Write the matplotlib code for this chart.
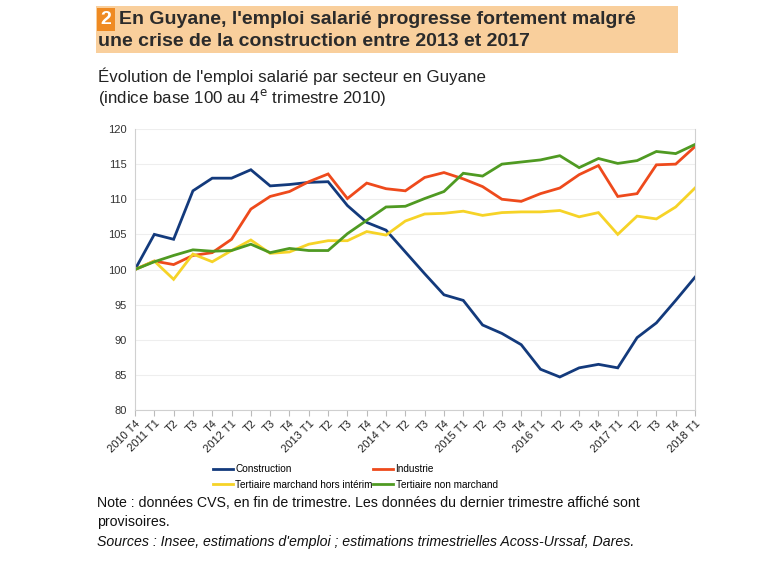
import matplotlib
matplotlib.use("Agg")
import matplotlib.pyplot as plt
from matplotlib import font_manager
from matplotlib.patches import Rectangle

names = {f.name for f in font_manager.fontManager.ttflist}
BASE = "Liberation Sans" if "Liberation Sans" in names else "DejaVu Sans"
NARROW = "Liberation Sans Narrow" if "Liberation Sans Narrow" in names else None
plt.rcParams['font.family'] = [BASE, 'DejaVu Sans']

tick_labels = ["2010 T4", "2011 T1", "T2", "T3", "T4", "2012 T1", "T2", "T3", "T4",
               "2013 T1", "T2", "T3", "T4", "2014 T1", "T2", "T3", "T4",
               "2015 T1", "T2", "T3", "T4", "2016 T1", "T2", "T3", "T4",
               "2017 T1", "T2", "T3", "T4", "2018 T1"]

construction = [100.0, 105.0, 104.3, 111.2, 113.0, 113.0, 114.2, 111.9, 112.1, 112.4,
                112.5, 109.1, 106.7, 105.6, 102.5, 99.4, 96.4, 95.6, 92.1, 90.9,
                89.3, 85.8, 84.7, 86.0, 86.5, 86.0, 90.3, 92.4, 95.6, 98.9]
industrie = [100.0, 101.2, 100.7, 102.0, 102.4, 104.3, 108.6, 110.4, 111.1, 112.5,
             113.6, 110.1, 112.3, 111.5, 111.2, 113.1, 113.8, 112.9, 111.8, 110.0,
             109.7, 110.8, 111.6, 113.5, 114.8, 110.4, 110.8, 114.9, 115.0, 117.5]
tertiaire_marchand = [100.0, 101.2, 98.6, 102.2, 101.1, 102.7, 104.2, 102.3, 102.5, 103.6,
                      104.1, 104.1, 105.4, 104.9, 106.9, 107.9, 108.0, 108.3, 107.7, 108.1,
                      108.2, 108.2, 108.4, 107.5, 108.1, 105.0, 107.6, 107.2, 108.9, 111.6]
tertiaire_non_marchand = [100.0, 101.1, 102.0, 102.8, 102.6, 102.7, 103.6, 102.4, 103.0, 102.7,
                          102.7, 105.1, 107.0, 108.9, 109.0, 110.1, 111.1, 113.7, 113.3, 115.0,
                          115.3, 115.6, 116.2, 114.5, 115.8, 115.1, 115.5, 116.8, 116.5, 117.8]

series = [
    ("Construction", construction, "#133a7c"),
    ("Industrie", industrie, "#ee4a1c"),
    ("Tertiaire marchand hors intérim", tertiaire_marchand, "#f6d327"),
    ("Tertiaire non marchand", tertiaire_non_marchand, "#4f9a22"),
]

W, H = 780, 583
fig = plt.figure(figsize=(W / 100, H / 100), dpi=100)

# Title box
fig.patches.append(Rectangle((96 / W, 1 - 53 / H), (678 - 96) / W, 47 / H,
                             transform=fig.transFigure, facecolor="#f9cf9c",
                             edgecolor="none", zorder=0))
fig.patches.append(Rectangle((97 / W, 1 - 31 / H), 18 / W, 23 / H,
                             transform=fig.transFigure, facecolor="#ef8a22",
                             edgecolor="none", zorder=1))
fig.text(106 / W, 1 - 19.5 / H, "2", color="white", fontsize=14, fontweight="bold",
         ha="center", va="center")
fig.text(119 / W, 1 - 19.5 / H, "En Guyane, l'emploi salarié progresse fortement malgré",
         color="#2b2b2b", fontsize=14, fontweight="bold", ha="left", va="center")
fig.text(98 / W, 1 - 41 / H, "une crise de la construction entre 2013 et 2017",
         color="#2b2b2b", fontsize=14, fontweight="bold", ha="left", va="center")

fig.text(98 / W, 1 - 76 / H, "Évolution de l'emploi salarié par secteur en Guyane",
         color="#222222", fontsize=12.2, ha="left", va="center")
fig.text(98 / W, 1 - 97 / H, r"(indice base 100 au 4$^{\mathrm{e}}$ trimestre 2010)",
         color="#222222", fontsize=12.2, ha="left", va="center")

ax = fig.add_axes([135 / W, 1 - 410 / H, (695 - 135) / W, (410 - 129) / H])
x = list(range(len(tick_labels)))
lines = {}
for name, vals, col in series:
    ln, = ax.plot(x, vals, color=col, lw=2.0, label=name, solid_joinstyle="miter")
    lines[name] = ln

ax.set_xlim(0, len(tick_labels) - 1)
ax.set_ylim(80, 120)
ax.set_yticks(range(80, 121, 5))
ax.tick_params(axis="y", length=0, labelsize=8, colors="#333333", pad=6)
ax.set_xticks(x)
ax.set_xticklabels(tick_labels, rotation=45, ha="right", rotation_mode="anchor",
                   fontsize=8, color="#222222")
ax.tick_params(axis="x", length=4, color="#bbbbbb", pad=2)
ax.grid(axis="y", color="#eeeeee", lw=0.8)
ax.set_axisbelow(True)
ax.spines["top"].set_visible(False)
for s in ["left", "bottom", "right"]:
    ax.spines[s].set_color("#d0d0d0")
    ax.spines[s].set_linewidth(0.8)

leg_kw = dict(loc="center left", frameon=False, fontsize=7.2, handlelength=2.0,
              handletextpad=0.25, labelspacing=0.55, borderpad=0, borderaxespad=0)
col1 = ["Construction", "Tertiaire marchand hors intérim"]
col2 = ["Industrie", "Tertiaire non marchand"]
l1 = fig.legend([lines[n] for n in col1], col1, bbox_to_anchor=(213 / W, 1 - 477 / H), **leg_kw)
l2 = fig.legend([lines[n] for n in col2], col2, bbox_to_anchor=(373 / W, 1 - 477 / H), **leg_kw)

nfam = [NARROW, 'DejaVu Sans'] if NARROW else [BASE, 'DejaVu Sans']
nsize = 11 if NARROW else 10.2
fig.text(97 / W, 1 - 503 / H,
         "Note : données CVS, en fin de trimestre. Les données du dernier trimestre affiché sont",
         fontsize=nsize, family=nfam, color="#111111", ha="left", va="center")
fig.text(97 / W, 1 - 522 / H, "provisoires.",
         fontsize=nsize, family=nfam, color="#111111", ha="left", va="center")
fig.text(97 / W, 1 - 542 / H,
         "Sources : Insee, estimations d'emploi ; estimations trimestrielles Acoss-Urssaf, Dares.",
         fontsize=nsize, family=nfam, style="italic", color="#111111",
         ha="left", va="center")

fig.savefig("out.png", dpi=100, facecolor="white")
